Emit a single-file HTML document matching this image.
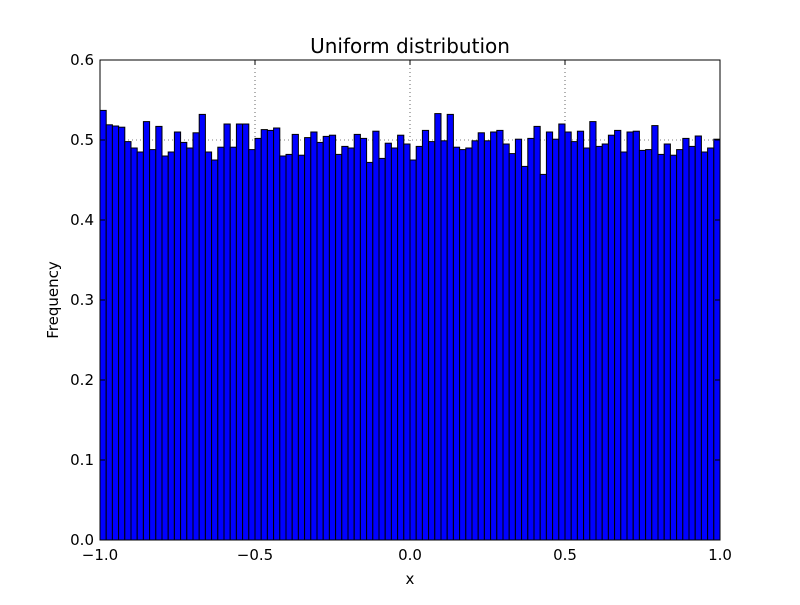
<!DOCTYPE html>
<html><head><meta charset="utf-8"><style>
body{margin:0;background:#fff;width:800px;height:600px;overflow:hidden}
svg text{font-family:"DejaVu Sans","Liberation Sans",sans-serif;fill:#000}
</style></head><body>
<svg id="chart" width="800" height="600" xmlns="http://www.w3.org/2000/svg">
<rect width="800" height="600" fill="#fff"/>
<g id="grid"></g>
<g id="bars"></g>
<g id="axes"></g>
<text x="410" y="53" font-size="20" text-anchor="middle">Uniform distribution</text>
<text x="410" y="584" font-size="15" text-anchor="middle">x</text>
<text x="58" y="300" font-size="15" text-anchor="middle" transform="rotate(-90 58 300)">Frequency</text>
</svg>
<script>
const binStart = -1, binCount = 100, binWidthVal = 0.02;
const freqs = [0.537,0.519,0.5175,0.516,0.498,0.490,0.485,0.523,0.488,0.517,
0.480,0.485,0.510,0.497,0.490,0.509,0.532,0.485,0.475,0.491,
0.520,0.491,0.520,0.520,0.488,0.502,0.513,0.512,0.515,0.480,
0.482,0.507,0.481,0.503,0.510,0.497,0.5045,0.506,0.482,0.492,
0.490,0.507,0.502,0.472,0.511,0.477,0.496,0.490,0.506,0.495,
0.475,0.492,0.512,0.498,0.533,0.499,0.532,0.491,0.488,0.490,
0.499,0.509,0.499,0.510,0.512,0.495,0.483,0.501,0.467,0.502,
0.517,0.457,0.510,0.501,0.520,0.510,0.498,0.511,0.490,0.523,
0.492,0.495,0.506,0.512,0.485,0.510,0.511,0.487,0.488,0.518,
0.482,0.495,0.481,0.488,0.502,0.492,0.505,0.485,0.490,0.501];
const xTicks = [-1.0,-0.5,0.0,0.5,1.0];
const xTickLabels = ["\u22121.0","\u22120.5","0.0","0.5","1.0"];
const yTicks = [0,0.1,0.2,0.3,0.4,0.5,0.6];
const yTickLabels = ["0.0","0.1","0.2","0.3","0.4","0.5","0.6"];

const L=100,R=720,T=60,B=540;
const xs=v=>L+(v+1)/2*(R-L);
const ys=v=>B-v/0.6*(B-T);
const NS="http://www.w3.org/2000/svg";
function mk(tag,attrs,parent){const e=document.createElementNS(NS,tag);for(const k in attrs)e.setAttribute(k,attrs[k]);parent.appendChild(e);return e;}
const grid=document.getElementById('grid'),bars=document.getElementById('bars'),axes=document.getElementById('axes');
xTicks.forEach((t,i)=>{
  const x=xs(t);
  const g=mk('line',{x1:x,x2:x,y1:T,y2:B,stroke:'#000','stroke-width':0.6,'stroke-dasharray':'1,3'},grid);
  
  
});
yTicks.forEach((t,i)=>{
  const y=ys(t);
  const g=mk('line',{x1:L,x2:R,y1:y,y2:y,stroke:'#000','stroke-width':0.6,'stroke-dasharray':'1,3'},grid);
  
  
});
freqs.forEach((f,i)=>{
  const x0=xs(binStart+i*binWidthVal),x1=xs(binStart+(i+1)*binWidthVal);
  const r=mk('rect',{x:x0,y:ys(f),width:x1-x0,height:ys(0)-ys(f),fill:'#0000ff',stroke:'#000','stroke-width':1},bars);
  
  
});
const frame=mk('rect',{x:L,y:T,width:R-L,height:B-T,fill:'none',stroke:'#000','stroke-width':1},axes);


xTicks.forEach((t,i)=>{
  const x=xs(t);
  mk('line',{x1:x,x2:x,y1:B,y2:B-5,stroke:'#000'},axes);
  mk('line',{x1:x,x2:x,y1:T,y2:T+5,stroke:'#000'},axes);
  const tx=mk('text',{x:x,y:B+20,'font-size':15,'text-anchor':'middle'},axes);
  tx.textContent=xTickLabels[i];
  
  
});
yTicks.forEach((t,i)=>{
  const y=ys(t);
  mk('line',{x1:L,x2:L+5,y1:y,y2:y,stroke:'#000'},axes);
  mk('line',{x1:R,x2:R-5,y1:y,y2:y,stroke:'#000'},axes);
  const tx=mk('text',{x:L-6,y:y+5,'font-size':15,'text-anchor':'end'},axes);
  tx.textContent=yTickLabels[i];
  
  
});
</script>
</body></html>
